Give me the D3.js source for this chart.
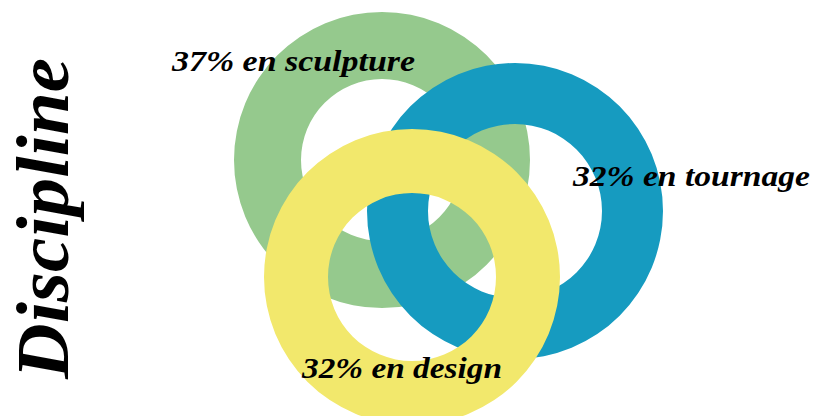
<!DOCTYPE html>
<html>
<head>
<meta charset="utf-8">
<script src="https://cdn.jsdelivr.net/npm/d3@7"></script>
<style>
  html, body { margin: 0; padding: 0; background: #fff; }
  svg { display: block; }
  .lbl { font-family: "Liberation Serif", serif; font-style: italic; font-weight: bold; fill: #000; }
</style>
</head>
<body>
<div id="chart"></div>
<script>
// data
const disciplines = ["sculpture", "tournage", "design"];
const shares = [37, 32, 32];
const title = "Discipline";

// layout of each ring (drawing order = green, blue, yellow)
const width = 813, height = 416;
const ringCx = [382, 515, 412];
const ringCy = [160, 211, 277];
const ringInner = [81, 87, 84];
const outerR = 148;
const colours = ["#95c98d", "#169bc0", "#f2e86c"];

// label placement: start x, baseline y, fitted width
const labelX = [172, 573, 302];
const labelY = [71, 186, 378];
const labelW = [243, 237, 200];

const svg = d3.select("#chart")
  .append("svg")
  .attr("width", width)
  .attr("height", height);

const rings = disciplines.map((d, i) => ({
  name: d,
  share: shares[i],
  cx: ringCx[i],
  cy: ringCy[i],
  inner: ringInner[i],
  colour: colours[i]
}));

const arc = d3.arc()
  .innerRadius(d => d.inner)
  .outerRadius(outerR)
  .startAngle(0)
  .endAngle(2 * Math.PI);

svg.selectAll(".ring")
  .data(rings)
  .enter()
  .append("path")
  .attr("class", "ring")
  .attr("transform", d => `translate(${d.cx},${d.cy})`)
  .attr("d", arc)
  .attr("fill", d => d.colour);

// labels on top of the rings
svg.selectAll(".pct")
  .data(rings)
  .enter()
  .append("text")
  .attr("class", "lbl pct")
  .attr("x", (d, i) => labelX[i])
  .attr("y", (d, i) => labelY[i])
  .attr("textLength", (d, i) => labelW[i])
  .attr("lengthAdjust", "spacingAndGlyphs")
  .style("font-size", "30px")
  .text(d => `${d.share}% en ${d.name}`);

// vertical title
svg.append("text")
  .attr("class", "lbl")
  .attr("transform", "translate(68,379) rotate(-90)")
  .attr("textLength", 321)
  .attr("lengthAdjust", "spacingAndGlyphs")
  .style("font-size", "74px")
  .text(title);
</script>
</body>
</html>
